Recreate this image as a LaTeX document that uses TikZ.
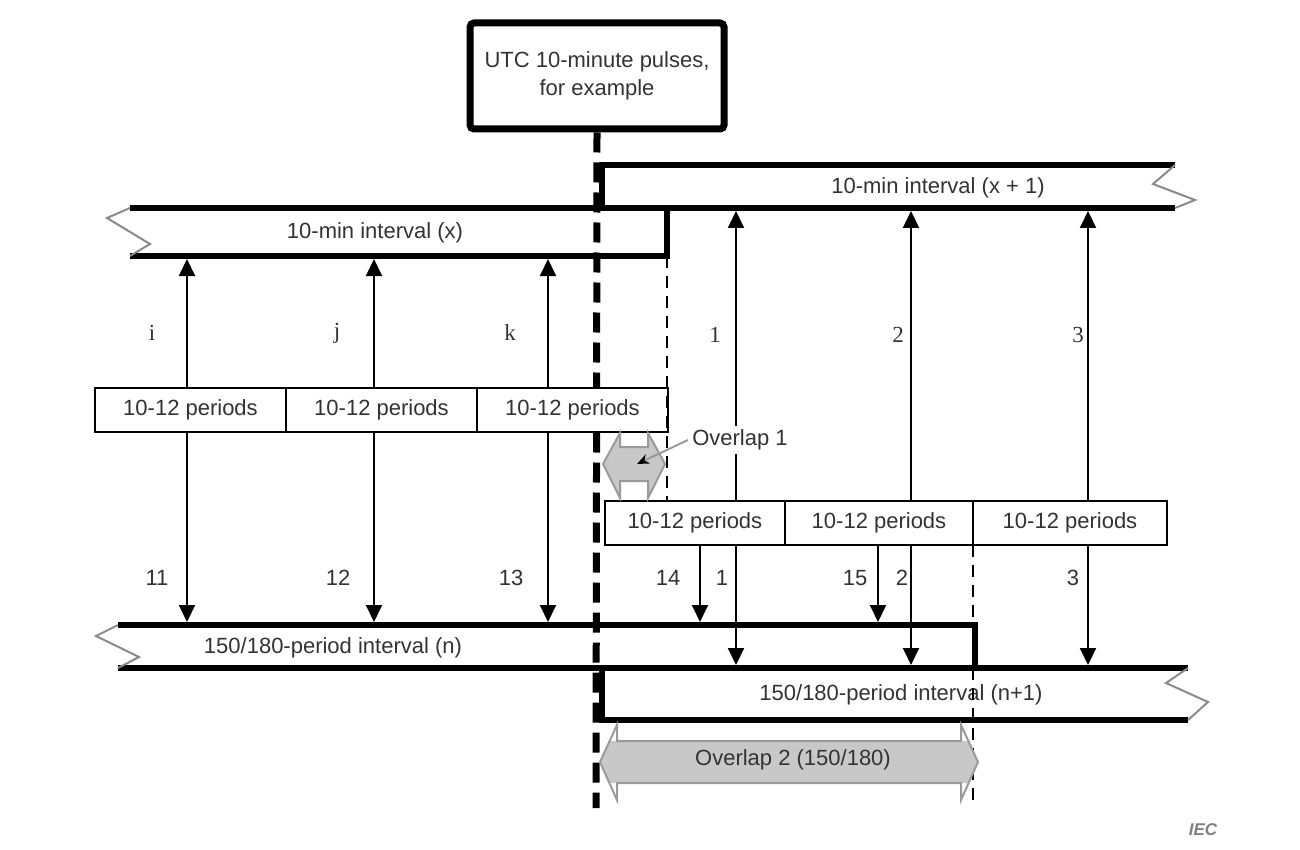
\documentclass[tikz,border=0pt]{standalone}
\usepackage{fontspec}
\setmainfont{Liberation Sans}
\newfontfamily\timesfont{Liberation Serif}
\usetikzlibrary{arrows.meta,positioning}
\definecolor{ovgray}{HTML}{C8C8C8}
\definecolor{ovline}{HTML}{9A9A9A}
\definecolor{txtgray}{HTML}{333333}
\definecolor{ziggray}{HTML}{8A8A8A}

\begin{document}
\begin{tikzpicture}[x=0.5pt,y=-0.5pt,
   band/.style={line width=3.2pt},
   zig/.style={ziggray,line width=1pt},
   pulse/.style={line width=3.5pt,dash pattern=on 10pt off 5pt},
   guide/.style={line width=0.8pt,dash pattern=on 6pt off 4pt},
   lbl/.style={font=\fontsize{11}{14}\selectfont,text=txtgray},
   per/.style={lbl,draw,fill=white,line width=1pt,minimum width=95.5pt,
               minimum height=22pt,inner sep=0pt,outer sep=0pt},
   idx/.style={font=\timesfont\fontsize{11.5}{13}\selectfont,text=txtgray},
   ar/.style={line width=1pt,-{Triangle[length=8.5pt,width=8pt]}},
   ovl/.style={fill=ovgray,draw=ovline,line width=1pt}]
  \useasboundingbox (0,0) rectangle (1300,850);
  \node[lbl,draw=black,line width=3.5pt,rounded corners=2pt,minimum width=127pt,
        minimum height=53pt,align=center] (utc) at (597,76)
        {UTC 10-minute pulses,\\for example};
  % 10-min intervals
  \draw[band] (130,208) -- (1175,208);
  \draw[band] (130,256) -- (667,256) -- (667,208);
  \draw[band] (602,208) -- (602,165) -- (1175,165);
  \draw[zig] (130,208) -- (107,218) -- (150,244) -- (130,256);
  \draw[zig] (1175,165) -- (1153,184) -- (1195,200) -- (1175,208);
  % 150/180-period intervals
  \draw[band] (118,625) -- (975,625) -- (975,668);
  \draw[band] (118,668) -- (1188,668);
  \draw[band] (602,668) -- (602,720) -- (1188,720);
  \draw[zig] (118,625) -- (96,636) -- (139,657) -- (118,668);
  \draw[zig] (1188,668) -- (1166,683) -- (1208,702) -- (1188,720);
  \node[lbl] (tx) at (375,233) {10-min interval (x)};
  \node[lbl] (tx1) at (938,188) {10-min interval (x + 1)};
  \node[lbl] (tn) at (333,648) {150/180-period interval (n)};
  \node[lbl] (tn1) at (901,695) {150/180-period interval (n+1)};
  \coordinate (xlo) at (0,259); \coordinate (x1lo) at (0,211);
  \coordinate (nhi) at (0,622); \coordinate (n1hi) at (0,665);
  \coordinate (xend) at (667,256); \coordinate (nend) at (973,668);
  \coordinate (pend) at (596,808);
  \draw[pulse] (utc.south) -- (pend);
  % 10-12 period blocks
  \node[per] (b1) at (190.5,410) {10-12 periods};
  \node[per,right=0pt of b1] (b2) {10-12 periods};
  \node[per,right=0pt of b2] (b3) {10-12 periods};
  \node[per,minimum width=90pt] (c1) at (695,522.5) {10-12 periods};
  \node[per,minimum width=94pt,right=0pt of c1] (c2) {10-12 periods};
  \node[per,minimum width=97pt,right=0pt of c2] (c3) {10-12 periods};
  \draw[guide] (xend) -- (xend |- c1.north);
  \draw[guide] (nend |- c2.south) -- (nend |- nhi);
  \draw[guide] (nend) -- (973,800);
  % arrows
  \draw[ar] (187,0 |- b1.north) -- (187,0 |- xlo); \draw[ar] (187,0 |- b1.south) -- (187,0 |- nhi);
  \draw[ar] (374,0 |- b2.north) -- (374,0 |- xlo); \draw[ar] (374,0 |- b2.south) -- (374,0 |- nhi);
  \draw[ar] (548,0 |- b3.north) -- (548,0 |- xlo); \draw[ar] (548,0 |- b3.south) -- (548,0 |- nhi);
  \draw[ar] (736,0 |- c1.north) -- (736,0 |- x1lo); \draw[ar] (736,0 |- c1.south) -- (736,0 |- n1hi);
  \draw[ar] (911,0 |- c2.north) -- (911,0 |- x1lo); \draw[ar] (911,0 |- c2.south) -- (911,0 |- n1hi);
  \draw[ar] (1088,0 |- c3.north) -- (1088,0 |- x1lo); \draw[ar] (1088,0 |- c3.south) -- (1088,0 |- n1hi);
  \draw[ar] (700,0 |- c1.south) -- (700,0 |- nhi); \draw[ar] (878,0 |- c2.south) -- (878,0 |- nhi);
  \node[idx] (li) at (152,333) {i}; \node[idx] (lj) at (337,333) {j};
  \node[idx] (lk) at (510,333) {k}; \node[idx] (l1) at (715,335) {1};
  \node[idx] (l2) at (898,335) {2}; \node[idx] (l3) at (1078,335) {3};
  \node[lbl] (m11) at (157,578) {11}; \node[lbl] (m12) at (338,578) {12};
  \node[lbl] (m13) at (511,578) {13}; \node[lbl] (m14) at (668,578) {14};
  \node[lbl] (m1) at (722,578) {1}; \node[lbl] (m15) at (855,578) {15};
  \node[lbl] (m2) at (902,578) {2}; \node[lbl] (m3) at (1073,578) {3};
  % overlaps
  \draw[ovl] (603,464) -- (620,433) -- (620,447) -- (648,447) -- (648,433) -- (665,464)
     -- (648,498) -- (648,481) -- (620,481) -- (620,498) -- cycle;
  \node[lbl,fill=white,inner sep=2pt] (ov1) at (740,440) {Overlap 1};
  \coordinate (ov1tip) at (637,464);
  \draw[ovline,line width=1pt,-{Stealth[length=6pt,width=5pt,color=black]}] (ov1.west) -- (ov1tip);
  \fill[ovgray] (600,762) -- (609.6,741) -- (968.4,741) -- (978,762) -- (968.4,783)
     -- (609.6,783) -- cycle;
  \draw[ovline,line width=1pt] (600,762) -- (617,725) -- (617,741) -- (961,741) -- (961,725)
     -- (978,762) -- (961,800) -- (961,783) -- (617,783) -- (617,800) -- cycle;
  \node[lbl] (ov2) at (793,760) {Overlap 2 (150/180)};
  \node[font=\fontsize{8.5}{10}\selectfont\bfseries\itshape,text=gray] (iec) at (1203,830) {IEC};
\end{tikzpicture}
\end{document}
